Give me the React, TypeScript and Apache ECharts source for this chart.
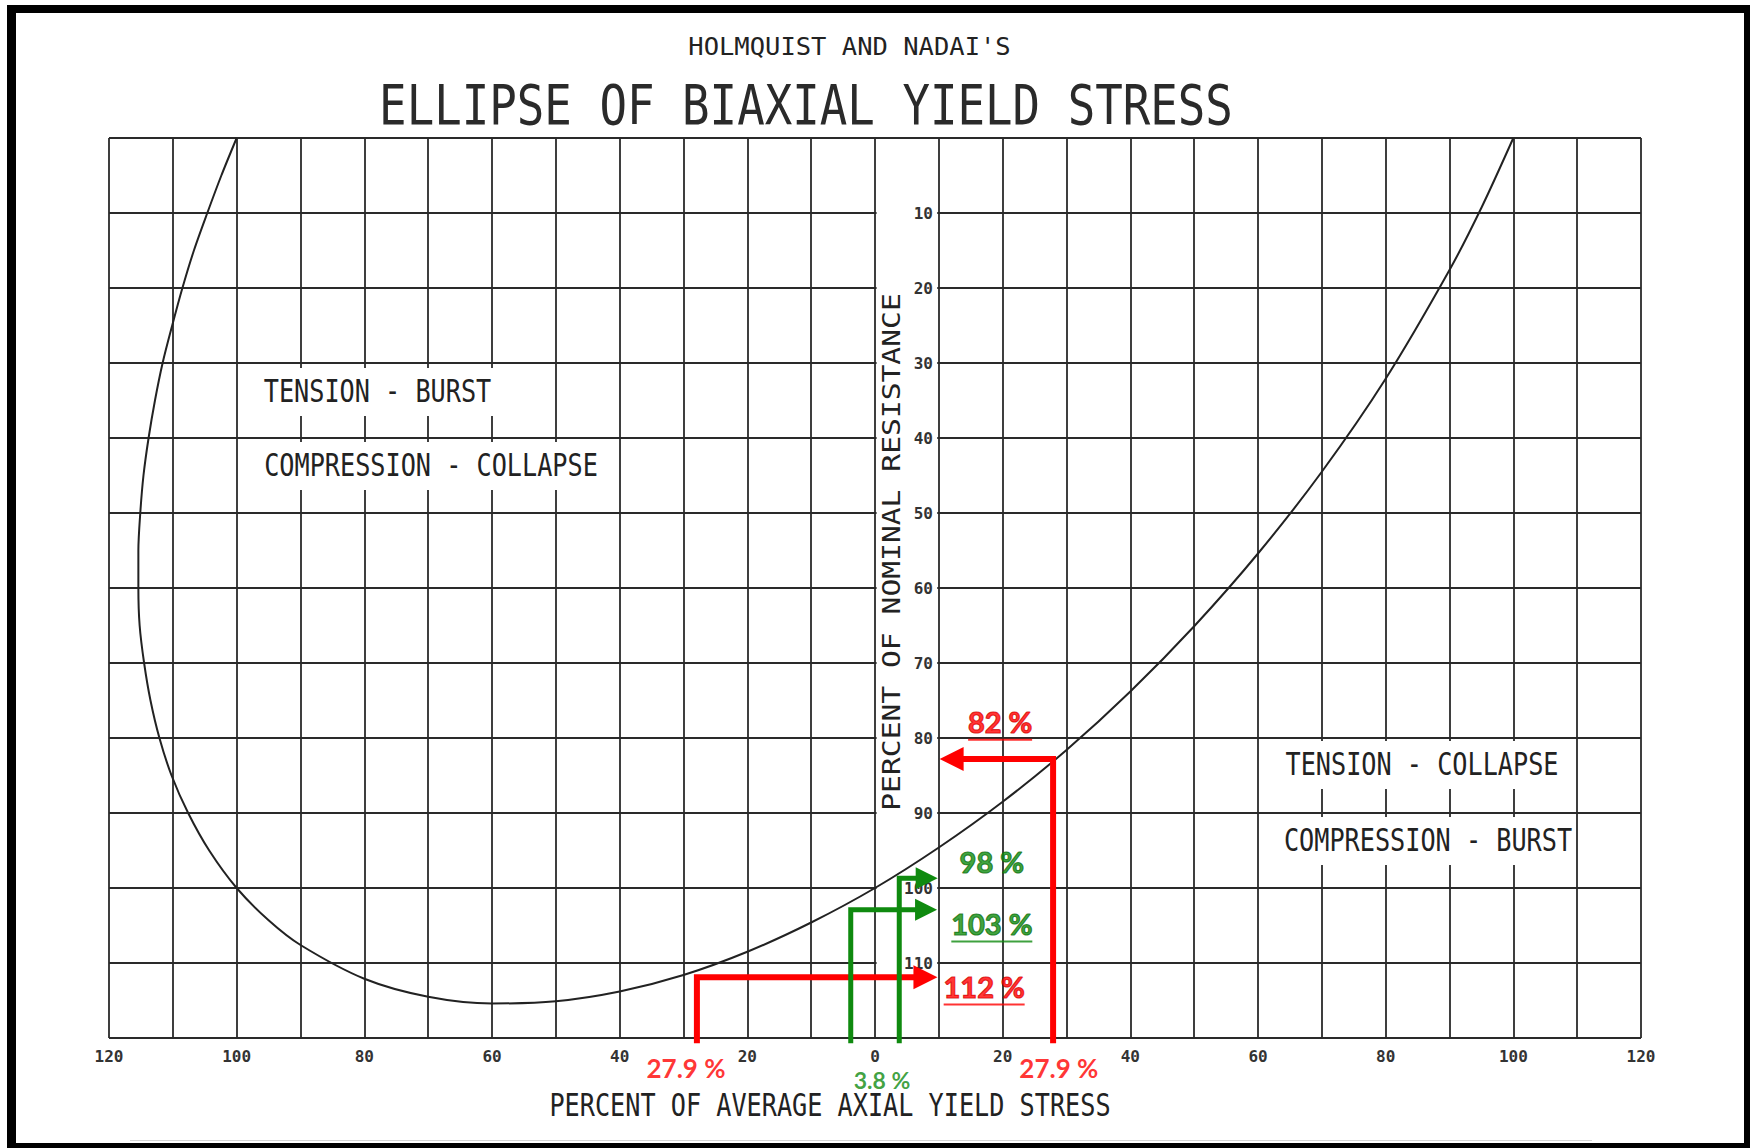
import React, { useEffect, useRef } from 'react';
import * as echarts from 'echarts';

// ---------------- values ----------------
const xMin = -120;
const xMax = 120;
const yMin = 0;
const yMax = 120;
const gridStep = 10;

const xTickValues = [-120, -100, -80, -60, -40, -20, 0, 20, 40, 60, 80, 100, 120];
const xTickLabels = ['120', '100', '80', '60', '40', '20', '0', '20', '40', '60', '80', '100', '120'];
const yTickValues = [10, 20, 30, 40, 50, 60, 70, 80, 90, 100, 110];
const yTickLabels = ['10', '20', '30', '40', '50', '60', '70', '80', '90', '100', '110'];

// Holmquist & Nadai ellipse
const ellipseAxial = [
  -100, -102.4, -104.6, -106.7, -108.5, -110.1, -111.6, -112.8, -113.8, -114.6,
  -115.1, -115.4, -115.4, -115.2, -114.5, -113.5, -112.1, -110.2, -107.6, -104.3, -100,
  -95, -90, -80, -70, -60, -50, -40, -30, -20, -10, 0,
  10, 20, 30, 40, 50, 60, 70, 80, 90, 95, 100,
];
const ellipseResistance = [
  0, 5, 10, 15, 20, 25, 30, 35, 40, 45,
  50, 55, 60, 65, 70, 75, 80, 85, 90, 95, 100,
  104.3, 107.6, 112.1, 114.5, 115.4, 115.1, 113.8, 111.6, 108.5, 104.6, 100,
  94.6, 88.5, 81.6, 73.8, 65.1, 55.4, 44.5, 32.1, 17.6, 9.3, 0,
];

// construction arrows (axial %, resistance %)
const constructionAxial = [27.9, -27.9, 3.8, -3.8];
const constructionResistance = [82.8, 111.9, 98.7, 102.9];
const constructionBase = [120.7, 120.7, 120.7, 120.7];
const arrowHeadAxial = [12.0, 7.9, 8.1, 8.0];
const constructionColorKey = ['red', 'red', 'green', 'green'];

const resultLabels = ['82 %', '112 %', '98 %', '103 %'];
const resultAxial = [19.6, 17.1, 18.3, 18.3];
const resultResistance = [78.1, 113.4, 96.4, 105.0];
const resultUnderlined = [true, true, false, true];
const resultColorKey = ['red', 'red', 'green', 'green'];

const inputLabels = ['27.9 %', '27.9 %', '3.8 %'];
const inputAxial = [28.8, -29.6, 1.1];
const inputResistance = [124.0, 124.0, 125.6];
const inputColorKey = ['red', 'red', 'green'];

const regionTexts = ['TENSION - BURST', 'COMPRESSION - COLLAPSE', 'TENSION - COLLAPSE', 'COMPRESSION - BURST'];

// ---------------- layout & styles ----------------
const W = 1750;
const H = 1148;
const GRID = { left: 109, top: 138, width: 1532, height: 900 };
const INK = '#222222';
const GRIDLINE = '#2a2a2a';
const COLORS: Record<string, string> = { red: '#ff0000', green: '#0f8a0f' };
const OUTLINE: Record<string, string> = { red: '#c00000', green: '#0a600a' };
const MONO = '"DejaVu Sans Mono", "Liberation Mono", monospace';
const SANS = 'Lato, "Open Sans", "Noto Sans", sans-serif';
const RESULT_FONT_SIZE = 29;

const regionLayout = [
  { x: 377.5, y: 392, pad: [8, 5] },
  { x: 431, y: 466, pad: [8, 5] },
  { x: 1422, y: 765, pad: [8, 5] },
  { x: 1428, y: 841, pad: [8, 2] },
];

let measureCtx: CanvasRenderingContext2D | null = null;
function measure(text: string, font: string) {
  if (!measureCtx) measureCtx = document.createElement('canvas').getContext('2d');
  if (!measureCtx) return text.length * 15;
  measureCtx.font = font;
  return measureCtx.measureText(text).width;
}

function buildOption() {
  const ellipseData = ellipseAxial.map((x, i) => [x, ellipseResistance[i]]);

  const arrowSeries = constructionAxial.map((ax, i) => {
    const color = COLORS[constructionColorKey[i]];
    const isRed = constructionColorKey[i] === 'red';
    const size = isRed ? 24 : 22;
    const pointsLeft = arrowHeadAxial[i] < ax;
    return {
      type: 'line',
      z: 4,
      clip: false,
      silent: true,
      symbol: 'none',
      showSymbol: true,
      lineStyle: { color, width: isRed ? 6 : 5, cap: 'butt', join: 'miter' },
      itemStyle: { color, borderWidth: 0 },
      data: [
        { value: [ax, constructionBase[i]], symbol: 'none' },
        { value: [ax, constructionResistance[i]], symbol: 'none' },
        {
          value: [arrowHeadAxial[i], constructionResistance[i]],
          symbol: 'triangle',
          symbolSize: [size, size],
          symbolRotate: pointsLeft ? 90 : -90,
        },
      ],
    };
  });

  const rich: Record<string, any> = {};
  (['red', 'green'] as const).forEach((k) => {
    rich['t' + k] = {
      fontFamily: SANS, fontSize: RESULT_FONT_SIZE, fontWeight: 'bold', color: COLORS[k], lineHeight: 32,
      textBorderColor: OUTLINE[k], textBorderWidth: 1.2,
    };
  });
  rich.ired = { fontFamily: SANS, fontSize: 26, fontWeight: 'bold', color: COLORS.red, lineHeight: 28 };
  rich.igreen = { fontFamily: SANS, fontSize: 23, fontWeight: 'bold', color: COLORS.green, lineHeight: 26 };

  const resultFont = `bold ${RESULT_FONT_SIZE}px ${SANS}`;
  const labelData = [
    ...resultLabels.map((t, i) => {
      const k = resultColorKey[i];
      const itemRich: Record<string, any> = { ...rich };
      let formatter = `{t${k}|${t}}`;
      if (resultUnderlined[i]) {
        itemRich.ul = {
          width: Math.round(measure(t, resultFont)),
          height: 2,
          lineHeight: 4,
          fontSize: 2,
          backgroundColor: COLORS[k],
        };
        formatter += '\n{ul| }';
      }
      return {
        value: [resultAxial[i], resultResistance[i]],
        label: { formatter, rich: itemRich },
      };
    }),
    ...inputLabels.map((t, i) => ({
      value: [inputAxial[i], inputResistance[i]],
      label: { formatter: `{i${inputColorKey[i]}|${t}}` },
    })),
  ];

  const xLabel = (v: number) => {
    const i = xTickValues.indexOf(Math.round(v));
    return i >= 0 ? xTickLabels[i] : '';
  };
  const yLabel = (v: number) => {
    const i = yTickValues.indexOf(Math.round(v));
    return i >= 0 ? yTickLabels[i] : '';
  };

  const yBase = {
    type: 'value',
    min: yMin,
    max: yMax,
    interval: gridStep,
    inverse: true,
    axisTick: { show: false },
    axisLine: { show: false, onZero: false },
  };

  return {
    animation: false,
    backgroundColor: '#ffffff',
    grid: { ...GRID, containLabel: false, outerBoundsMode: 'none', show: false },
    xAxis: {
      type: 'value',
      min: xMin,
      max: xMax,
      interval: gridStep,
      z: 0,
      axisLine: { show: false, onZero: false },
      axisTick: { show: false },
      splitLine: { show: true, showMinLine: true, showMaxLine: true, lineStyle: { color: GRIDLINE, width: 1.8 } },
      axisLabel: {
        show: true,
        margin: 10,
        formatter: xLabel,
        fontFamily: MONO,
        fontSize: 16,
        fontWeight: 'bold',
        color: '#333',
        showMinLabel: true,
        showMaxLabel: true,
      },
    },
    yAxis: [
      {
        ...yBase,
        position: 'right',
        offset: -(GRID.width * (xMax - 0)) / (xMax - xMin),
        z: 3,
        splitLine: { show: false },
        axisLabel: {
          show: true,
          margin: 58,
          align: 'right',
          formatter: yLabel,
          fontFamily: MONO,
          fontSize: 16,
          fontWeight: 'bold',
          color: '#333',
        },
      },
      {
        ...yBase,
        position: 'left',
        z: 0,
        axisLabel: { show: false },
        splitLine: { show: true, showMinLine: true, showMaxLine: true, lineStyle: { color: GRIDLINE, width: 1.8 } },
      },
    ],
    series: [
      {
        type: 'line',
        name: 'ellipse',
        z: 2,
        silent: true,
        smooth: 0.3,
        symbol: 'none',
        lineStyle: { color: INK, width: 2 },
        data: ellipseData,
      },
      ...arrowSeries,
      {
        type: 'scatter',
        z: 5,
        clip: false,
        silent: true,
        symbol: 'circle',
        symbolSize: 1,
        itemStyle: { color: 'rgba(0,0,0,0)' },
        label: { show: true, position: 'inside', rich },
        data: labelData,
      },
    ],
  };
}

function textEl(text: string, x: number, y: number, fontSize: number, scaleX: number, extra: any = {}) {
  return {
    type: 'text',
    x,
    y,
    scaleX,
    z: 5,
    silent: true,
    ...extra,
    style: {
      text,
      fontFamily: MONO,
      fontSize,
      fill: INK,
      align: 'center',
      verticalAlign: 'middle',
      textAlign: 'center',
      textVerticalAlign: 'middle',
      ...(extra.style || {}),
    },
  };
}

export default function App() {
  const ref = useRef<HTMLDivElement>(null);

  useEffect(() => {
    document.body.style.margin = '0';
    document.body.style.overflow = 'hidden';
    const chart = echarts.init(ref.current!, null, { renderer: 'svg', width: W, height: H });
    chart.setOption(buildOption() as any);

    const px = (x: number, y: number) => chart.convertToPixel({ gridIndex: 0 }, [x, y]) as number[];
    const a = px(0, yMin);
    const b = px(gridStep, yMax);
    const colTop = Math.min(a[1], b[1]);
    const colBottom = Math.max(a[1], b[1]);

    const elements: any[] = [
      // the column between 0 and 10 carries no horizontal rules
      {
        type: 'rect',
        z: 1,
        silent: true,
        shape: { x: a[0] + 1.6, y: colTop + 1.6, width: b[0] - a[0] - 3.2, height: colBottom - colTop - 3.2 },
        style: { fill: '#ffffff' },
      },
      textEl("HOLMQUIST AND NADAI'S", 849.5, 47, 25, 1.02),
      textEl('ELLIPSE OF BIAXIAL YIELD STRESS', 806, 104.5, 55, 0.832, { style: { fill: '#2a2a2a' } }),
      textEl('PERCENT OF AVERAGE AXIAL YIELD STRESS', 830, 1106, 31.5, 0.8),
      textEl('PERCENT OF NOMINAL RESISTANCE', 891, 552, 24.5, 1.21, { rotation: Math.PI / 2 }),
      ...regionTexts.map((t, i) =>
        textEl(t, regionLayout[i].x, regionLayout[i].y, 31.5, 0.8, {
          z: 1,
          style: { backgroundColor: '#ffffff', padding: regionLayout[i].pad },
        })
      ),
      // faint scan line near the bottom edge
      {
        type: 'line',
        z: 6,
        silent: true,
        shape: { x1: 130, y1: 1140.5, x2: 1592, y2: 1140.5 },
        style: { stroke: '#d4d4d4', lineWidth: 1 },
      },
      // black frame of the scanned page
      { type: 'rect', z: 10, silent: true, shape: { x: 7, y: 5, width: W - 7, height: 8 }, style: { fill: '#000' } },
      { type: 'rect', z: 10, silent: true, shape: { x: 7, y: 5, width: 9, height: H - 5 }, style: { fill: '#000' } },
      { type: 'rect', z: 10, silent: true, shape: { x: W - 6, y: 5, width: 6, height: H - 5 }, style: { fill: '#000' } },
      { type: 'rect', z: 10, silent: true, shape: { x: 7, y: H - 5, width: W - 7, height: 5 }, style: { fill: '#000' } },
    ];
    chart.setOption({ graphic: elements } as any);

    return () => chart.dispose();
  }, []);

  return <div ref={ref} style={{ width: W, height: H, background: '#fff' }} />;
}
